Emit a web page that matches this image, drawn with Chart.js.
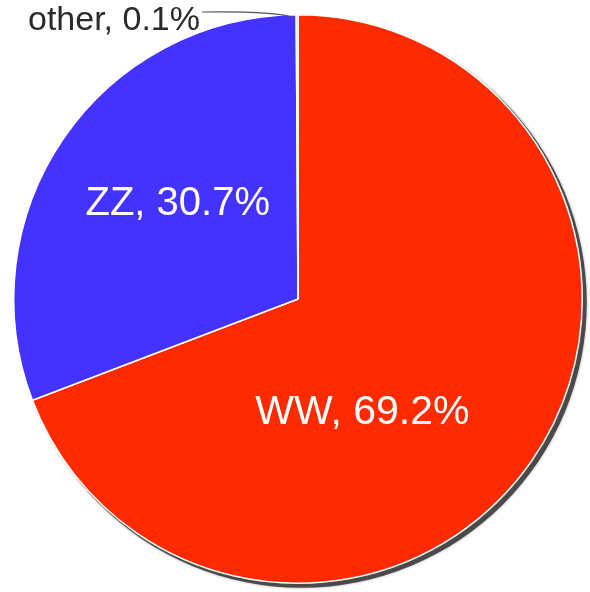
<!DOCTYPE html>
<html>
<head>
<meta charset="utf-8">
<script src="https://cdn.jsdelivr.net/npm/chart.js@4/dist/chart.umd.min.js"></script>
<style>
  html, body { margin: 0; padding: 0; background: #fff; }
  #wrap { width: 590px; height: 592px; position: relative; }
</style>
</head>
<body>
<div id="wrap"><canvas id="pieChart"></canvas></div>
<script>
// donnees du graphique
const labels = ['WW', 'ZZ', 'other'];
const shares = [69.2, 30.7, 0.1];
const colors = ['#ff2a00', '#4433ff', '#999999'];

// placement des etiquettes (angle en degres depuis le haut, sens horaire ; fraction du rayon)
const labelSpots = [
    { angle: 150.5, r: 0.46, color: '#ffffff', size: 41 },
    { angle: 308.4, r: 0.54, color: '#ffffff', size: 40 }
];

// ombre portee sous le camembert
const shadowPlugin = {
    id: 'pieShadow',
    beforeDatasetsDraw(chart) {
        const arc = chart.getDatasetMeta(0).data[0];
        if (!arc) return;
        const { x, y, outerRadius } = arc.getProps(['x', 'y', 'outerRadius'], true);
        const ctx = chart.ctx;
        ctx.save();
        ctx.beginPath();
        ctx.arc(x + 3.5, y + 3.5, outerRadius + 1, 0, Math.PI * 2);
        ctx.fillStyle = '#4a4a4a';
        ctx.shadowColor = 'rgba(0,0,0,0.35)';
        ctx.shadowBlur = 3;
        ctx.fill();
        ctx.restore();
    }
};

// etiquettes "nom, xx.x%"
const labelPlugin = {
    id: 'pieLabels',
    afterDatasetsDraw(chart) {
        const meta = chart.getDatasetMeta(0);
        const ctx = chart.ctx;
        const first = meta.data[0];
        const { x, y, outerRadius } = first.getProps(['x', 'y', 'outerRadius'], true);
        ctx.save();
        ctx.textAlign = 'center';
        ctx.textBaseline = 'middle';
        labelSpots.forEach((spot, i) => {
            const a = spot.angle * Math.PI / 180;
            const px = x + Math.sin(a) * outerRadius * spot.r;
            const py = y - Math.cos(a) * outerRadius * spot.r;
            ctx.font = spot.size + 'px "Liberation Sans", Arial, sans-serif';
            ctx.fillStyle = spot.color;
            ctx.fillText(labels[i] + ', ' + shares[i].toFixed(1) + '%', px, py);
        });

        // la petite part "other" : etiquette a l'exterieur avec trait de rappel
        const small = meta.data[2];
        const p = small.getProps(['startAngle', 'endAngle'], true);
        const mid = (p.startAngle + p.endAngle) / 2;
        const ex = x + Math.cos(mid) * outerRadius - 6;
        const ey = y + Math.sin(mid) * outerRadius + 2;
        const tx = 202, ty = 12;
        ctx.strokeStyle = '#555';
        ctx.lineWidth = 1.2;
        ctx.beginPath();
        ctx.moveTo(tx, ty);
        ctx.quadraticCurveTo(ex - 20, ty - 1, ex, ey);
        ctx.stroke();
        ctx.font = '34px "Liberation Sans", Arial, sans-serif';
        ctx.fillStyle = '#2a2a2a';
        ctx.textAlign = 'right';
        ctx.fillText(labels[2] + ', ' + shares[2].toFixed(1) + '%', tx - 2, 21);
        ctx.restore();
    }
};

new Chart(document.getElementById('pieChart'), {
    type: 'pie',
    data: {
        labels: labels,
        datasets: [{
            data: shares,
            backgroundColor: colors,
            borderColor: '#ffffff',
            borderWidth: 1.5,
            hoverOffset: 0,
            offset: 0
        }]
    },
    options: {
        responsive: true,
        maintainAspectRatio: false,
        animation: false,
        layout: {
            padding: { left: 13, top: 14, right: 7, bottom: 8 }
        },
        plugins: {
            legend: { display: false },
            tooltip: { enabled: false }
        }
    },
    plugins: [shadowPlugin, labelPlugin]
});
</script>
</body>
</html>
